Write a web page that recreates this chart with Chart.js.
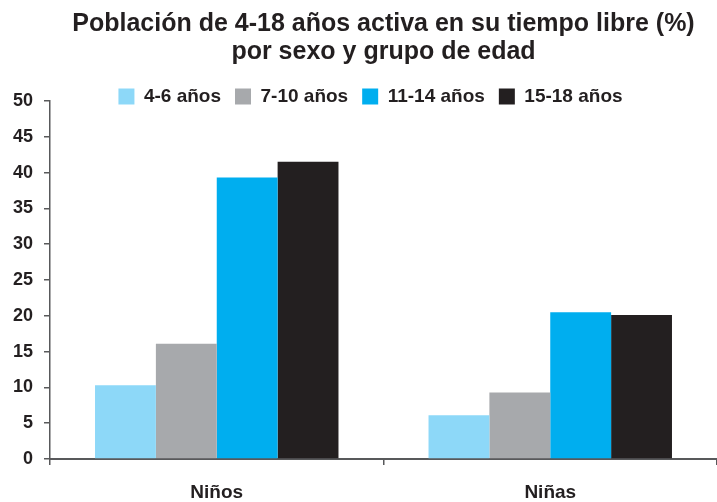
<!DOCTYPE html>
<html lang="es">
<head>
    <meta charset="UTF-8">
    <title>Población activa en su tiempo libre</title>
    <script src="https://cdn.jsdelivr.net/npm/chart.js"></script>
    <style>
        html, body { margin: 0; padding: 0; background: #fff; }
        .chart-box { width: 717px; height: 502px; }
    </style>
</head>
<body>
    <div class="chart-box">
        <canvas id="activityChart" width="717" height="502"></canvas>
    </div>

    <script>
        // Datos: % de población activa por sexo y grupo de edad
        const categories = ['Niños', 'Niñas'];
        const ageGroups = ['4-6 años', '7-10 años', '11-14 años', '15-18 años'];
        const values46 = [10.3, 6.1];
        const values710 = [16.1, 9.3];
        const values1114 = [39.3, 20.5];
        const values1518 = [41.5, 20.1];
        const yTicks = [0, 5, 10, 15, 20, 25, 30, 35, 40, 45, 50];

        const seriesValues = [values46, values710, values1114, values1518];
        const colors = ['#8dd8f8', '#a7a9ac', '#00aeef', '#231f20'];
        const textColor = '#231f20';
        const axisColor = '#58595b';

        Chart.defaults.font.family = '"Liberation Sans", Arial, Helvetica, sans-serif';
        Chart.defaults.font.weight = 'bold';
        Chart.defaults.color = textColor;

        // centra el título sobre el área del gráfico y baja la leyenda junto al eje
        const placeHeader = {
            id: 'placeHeader',
            afterLayout(chart) {
                const area = chart.chartArea;
                chart.titleBlock.left = area.left;
                chart.titleBlock.right = area.right;
                chart.legend.top += 15;
                chart.legend.bottom += 15;
                chart.legend.left += 8;
                chart.legend.right += 8;
            }
        };

        const ctx = document.getElementById('activityChart').getContext('2d');
        new Chart(ctx, {
            type: 'bar',
            data: {
                labels: categories,
                datasets: ageGroups.map((name, i) => ({
                    label: name,
                    data: seriesValues[i],
                    backgroundColor: colors[i],
                    borderWidth: 0,
                    categoryPercentage: 0.73,
                    barPercentage: 1.0
                }))
            },
            options: {
                responsive: false,
                animation: false,
                layout: {
                    padding: { left: 8, right: 0, top: 10, bottom: 0 }
                },
                plugins: {
                    title: {
                        display: true,
                        text: ['Población de 4-18 años activa en su tiempo libre (%)', 'por sexo y grupo de edad'],
                        color: textColor,
                        font: { size: 25, weight: 'bold', lineHeight: 1.12 },
                        padding: { top: 0, bottom: -8 }
                    },
                    legend: {
                        display: true,
                        position: 'top',
                        labels: {
                            color: textColor,
                            font: { size: 19, weight: 'bold' },
                            boxWidth: 16,
                            boxHeight: 16,
                            padding: 14
                        }
                    },
                    tooltip: { enabled: false }
                },
                scales: {
                    x: {
                        offset: true,
                        afterFit: (scale) => { scale.height = 43; },
                        grid: {
                            offset: true,
                            drawOnChartArea: false,
                            drawTicks: true,
                            tickLength: 6,
                            color: axisColor,
                            lineWidth: 1.5
                        },
                        border: { display: true, color: axisColor, width: 2 },
                        ticks: {
                            color: textColor,
                            font: { size: 19, weight: 'bold' },
                            padding: 16
                        }
                    },
                    y: {
                        min: 0,
                        max: 50,
                        afterFit: (scale) => { scale.width = 42; },
                        afterBuildTicks: (scale) => {
                            scale.ticks = yTicks.map(v => ({ value: v }));
                        },
                        grid: {
                            drawOnChartArea: false,
                            drawTicks: true,
                            tickLength: 6,
                            color: axisColor,
                            lineWidth: 1.5
                        },
                        border: { display: true, color: axisColor, width: 1.5 },
                        ticks: {
                            color: textColor,
                            font: { size: 18, weight: 'bold' },
                            padding: 11
                        }
                    }
                }
            },
            plugins: [placeHeader]
        });
    </script>
</body>
</html>
